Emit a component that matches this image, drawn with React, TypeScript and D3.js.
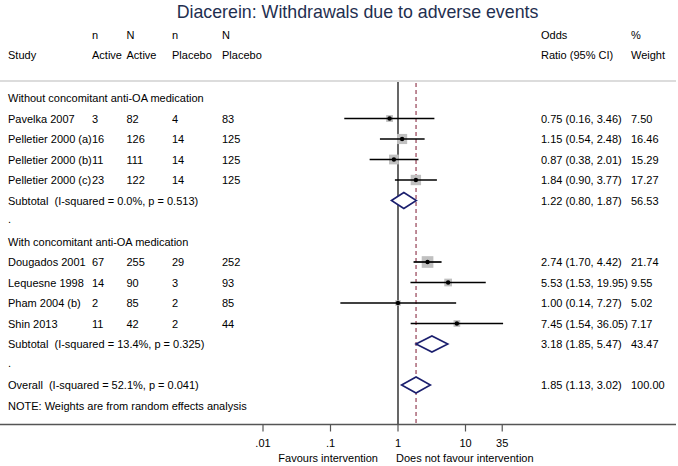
import React from "react";
import * as d3 from "d3";

const title = "Diacerein: Withdrawals due to adverse events";

const groupLabels = ["Without concomitant anti-OA medication", "With concomitant anti-OA medication"];
const studies = [
  "Pavelka 2007", "Pelletier 2000 (a)", "Pelletier 2000 (b)", "Pelletier 2000 (c)",
  "Dougados 2001", "Lequesne 1998", "Pham 2004 (b)", "Shin 2013",
];
const studyGroup = [0, 0, 0, 0, 1, 1, 1, 1];
const nActive = ["3", "16", "11", "23", "67", "14", "2", "11"];
const NActive = ["82", "126", "111", "122", "255", "90", "85", "42"];
const nPlacebo = ["4", "14", "14", "14", "29", "3", "2", "2"];
const NPlacebo = ["83", "125", "125", "125", "252", "93", "85", "44"];
const orVal = [0.75, 1.15, 0.87, 1.84, 2.74, 5.53, 1.0, 7.45];
const orLo = [0.16, 0.54, 0.38, 0.9, 1.7, 1.53, 0.14, 1.54];
const orHi = [3.46, 2.48, 2.01, 3.77, 4.42, 19.95, 7.27, 36.05];
const weights = [7.5, 16.46, 15.29, 17.27, 21.74, 9.55, 5.02, 7.17];

const subtotalLabels = ["Subtotal  (I-squared = 0.0%, p = 0.513)", "Subtotal  (I-squared = 13.4%, p = 0.325)"];
const subOr = [1.22, 3.18];
const subLo = [0.8, 1.85];
const subHi = [1.87, 5.47];
const subWeight = ["56.53", "43.47"];

const overallLabel = "Overall  (I-squared = 52.1%, p = 0.041)";
const overallOr = 1.85;
const overallLo = 1.13;
const overallHi = 3.02;
const overallWeight = "100.00";

const noteText = "NOTE: Weights are from random effects analysis";
const tickValues = [0.01, 0.1, 1, 10, 35];
const tickLabels = [".01", ".1", "1", "10", "35"];
const leftLabel = "Favours intervention";
const rightLabel = "Does not favour intervention";

const fmt = (v: number) => v.toFixed(2);
const ciText = (o: number, l: number, h: number) => `${fmt(o)} (${fmt(l)}, ${fmt(h)})`;

export default function App() {
  const W = 678, H = 466;
  const font = "'Liberation Sans', Arial, sans-serif";
  const fs = 11;
  const x = d3.scaleLog().domain([0.01, 35]).range([263, 263 + 67.5 * Math.log10(3500)]);
  const row0 = 98;
  const rowH = 20.5;
  const ry = (i: number) => row0 + i * rowH;
  const axisY = 424.5;
  const topLine = 81;

  const colX = { study: 8, na: 92, Na: 126.5, np: 172, Np: 222, or: 541, w: 631 };
  const diamondColor = "#1b1f6e";

  type Row =
    | { kind: "group"; label: string }
    | { kind: "study"; i: number }
    | { kind: "sub"; g: number }
    | { kind: "dot" }
    | { kind: "overall" }
    | { kind: "note" };
  const rows: Row[] = [];
  groupLabels.forEach((gl, g) => {
    rows.push({ kind: "group", label: gl });
    studies.forEach((_, i) => {
      if (studyGroup[i] === g) rows.push({ kind: "study", i });
    });
    rows.push({ kind: "sub", g });
    rows.push({ kind: "dot" });
  });
  rows.push({ kind: "overall" });
  rows.push({ kind: "note" });

  const txt = (s: string, xx: number, yy: number, extra: any = {}) => (
    <text x={xx} y={yy + 4} fontSize={fs} fontFamily={font} fill="#000" style={{ whiteSpace: "pre" }} {...extra}>{s}</text>
  );

  const diamond = (o: number, l: number, h: number, yy: number, key: string) => {
    const hh = 8;
    const pts = [[x(l), yy], [x(o), yy - hh], [x(h), yy], [x(o), yy + hh]];
    return <polygon key={key} points={pts.map((p) => p.join(",")).join(" ")} fill="white" stroke={diamondColor} strokeWidth={1.6} />;
  };

  return (
    <svg width={W} height={H} style={{ position: "absolute", left: 0, top: 0, background: "white" }}>
      <rect width={W} height={H} fill="white" />
      <text x={357.5} y={18} textAnchor="middle" fontSize={17.8} fontFamily={font} fill="#1f2f50">{title}</text>

      {txt("n", colX.na, 35)}
      {txt("N", colX.Na, 35)}
      {txt("n", colX.np, 35)}
      {txt("N", colX.Np, 35)}
      {txt("Odds", colX.or, 35)}
      {txt("%", colX.w, 35)}
      {txt("Study", colX.study, 55)}
      {txt("Active", colX.na, 55)}
      {txt("Active", colX.Na, 55)}
      {txt("Placebo", colX.np, 55)}
      {txt("Placebo", colX.Np, 55)}
      {txt("Ratio (95% CI)", colX.or, 55)}
      {txt("Weight", colX.w, 55)}

      <line x1={0} x2={676} y1={topLine} y2={topLine} stroke="#d0d0d0" strokeWidth={1.5} />

      {/* reference lines */}
      <line x1={x(1)} x2={x(1)} y1={82} y2={axisY} stroke="#000" strokeWidth={1.2} />
      <line x1={x(overallOr)} x2={x(overallOr)} y1={83} y2={axisY} stroke="#8b2f45" strokeWidth={1.1} strokeDasharray="4,3" />

      {rows.map((r, k) => {
        const yy = ry(k);
        if (r.kind === "group") return <g key={k}>{txt(r.label, colX.study, yy)}</g>;
        if (r.kind === "dot") return <g key={k}>{txt(".", colX.study, yy - 2)}</g>;
        if (r.kind === "note") return <g key={k}>{txt(noteText, colX.study, yy)}</g>;
        if (r.kind === "overall")
          return (
            <g key={k}>
              {txt(overallLabel, colX.study, yy)}
              {diamond(overallOr, overallLo, overallHi, yy, "od")}
              {txt(ciText(overallOr, overallLo, overallHi), colX.or, yy)}
              {txt(overallWeight, colX.w, yy)}
            </g>
          );
        if (r.kind === "sub")
          return (
            <g key={k}>
              {txt(subtotalLabels[r.g], colX.study, yy)}
              {diamond(subOr[r.g], subLo[r.g], subHi[r.g], yy, "sd" + r.g)}
              {txt(ciText(subOr[r.g], subLo[r.g], subHi[r.g]), colX.or, yy)}
              {txt(subWeight[r.g], colX.w, yy)}
            </g>
          );
        const i = r.i;
        const side = 2.5 * Math.sqrt(weights[i]);
        return (
          <g key={k}>
            {txt(studies[i], colX.study, yy)}
            {txt(nActive[i], colX.na, yy)}
            {txt(NActive[i], colX.Na, yy)}
            {txt(nPlacebo[i], colX.np, yy)}
            {txt(NPlacebo[i], colX.Np, yy)}
            <rect x={x(orVal[i]) - side / 2} y={yy - side / 2} width={side} height={side} fill="#c0c0c0" />
            <line x1={x(orLo[i])} x2={x(orHi[i])} y1={yy} y2={yy} stroke="#000" strokeWidth={1.7} />
            <circle cx={x(orVal[i])} cy={yy} r={2.2} fill="#000" />
            {txt(ciText(orVal[i], orLo[i], orHi[i]), colX.or, yy)}
            {txt(weights[i].toFixed(2), colX.w, yy)}
          </g>
        );
      })}

      {/* axis */}
      <line x1={0} x2={676} y1={axisY} y2={axisY} stroke="#555" strokeWidth={1.5} />
      {tickValues.map((t, i) => (
        <g key={t}>
          <line x1={x(t)} x2={x(t)} y1={axisY} y2={axisY + 7} stroke="#555" strokeWidth={1.2} />
          <text x={x(t)} y={axisY + 22} textAnchor="middle" fontSize={fs} fontFamily={font} fill="#000">{tickLabels[i]}</text>
        </g>
      ))}
      <text x={378} y={462} textAnchor="end" fontSize={fs} fontFamily={font} fill="#000">{leftLabel}</text>
      <text x={396} y={462} fontSize={fs} fontFamily={font} fill="#000">{rightLabel}</text>
    </svg>
  );
}
